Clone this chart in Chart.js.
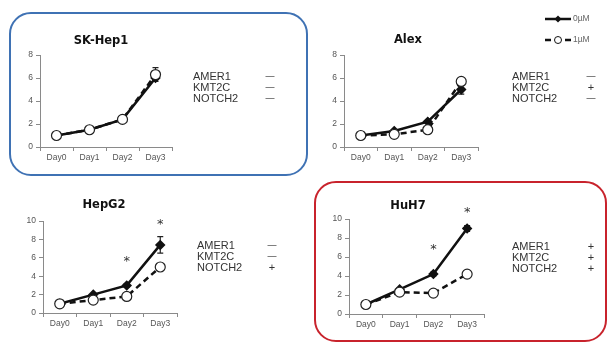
<!DOCTYPE html>
<html>
<head>
<meta charset="utf-8">
<script src="https://cdn.jsdelivr.net/npm/chart.js@4"></script>
<style>
  body { margin: 0; background: #fff; }
  #wrap { position: relative; width: 608px; height: 343px; overflow: hidden; }
  #wrap canvas { position: absolute; }
  .box { position: absolute; box-sizing: border-box; border-radius: 22px; }
</style>
</head>
<body>
<div id="wrap">
  <div class="box" style="left:9px;top:12px;width:299px;height:164px;border:2px solid #3f72b4"></div>
  <div class="box" style="left:314px;top:181px;width:293px;height:161px;border:2px solid #c8232c"></div>
  <canvas id="c1" width="304" height="170" style="left:0;top:0"></canvas>
  <canvas id="c2" width="304" height="170" style="left:304px;top:0"></canvas>
  <canvas id="c3" width="304" height="173" style="left:0;top:170px"></canvas>
  <canvas id="c4" width="304" height="173" style="left:304px;top:170px"></canvas>
</div>
<script>
const days = ['Day0', 'Day1', 'Day2', 'Day3']
const genes = ['AMER1', 'KMT2C', 'NOTCH2']

// fold change, 0µM / 1µM
const skHep1_0 = [1.0, 1.5, 2.4, 6.0]
const skHep1_1 = [1.0, 1.5, 2.4, 6.3]
const skHep1_err0 = [0, 0, 0, 0]
const skHep1_err1 = [0, 0, 0, 0.6]
const skHep1_mut = ['—', '—', '—']

const alex_0 = [1.0, 1.4, 2.2, 5.0]
const alex_1 = [1.0, 1.1, 1.5, 5.7]
const alex_err0 = [0, 0, 0, 0.4]
const alex_err1 = [0, 0, 0, 0]
const alex_mut = ['—', '+', '—']

const hepG2_0 = [1.0, 2.0, 3.0, 7.4]
const hepG2_1 = [1.0, 1.4, 1.8, 5.0]
const hepG2_err0 = [0, 0.1, 0.2, 0.9]
const hepG2_err1 = [0, 0, 0, 0]
const hepG2_mut = ['—', '—', '+']
const hepG2_stars = [null, null, 5.6, 9.6]

const huh7_0 = [1.0, 2.6, 4.2, 9.0]
const huh7_1 = [1.0, 2.3, 2.2, 4.2]
const huh7_err0 = [0, 0.1, 0.2, 0.3]
const huh7_err1 = [0, 0, 0, 0]
const huh7_mut = ['+', '+', '+']
const huh7_stars = [null, null, 6.8, 10.7]

const tickFont = { family: 'Liberation Sans', size: 8.5 }
const grey = '#8a8a8a'

const panelPlugin = {
    id: 'panel',
    beforeDatasetsDraw(chart, args, opts) {
        const ctx = chart.ctx
        const x = chart.scales.x, y = chart.scales.y
        ctx.save()
        ctx.strokeStyle = '#222'
        ctx.lineWidth = 1.2
        chart.data.datasets.forEach(ds => {
            (ds.err || []).forEach((e, i) => {
                if (!e) return
                const px = x.getPixelForValue(i)
                const top = y.getPixelForValue(ds.data[i] + e)
                const bot = y.getPixelForValue(ds.data[i] - e)
                ctx.beginPath()
                ctx.moveTo(px, top); ctx.lineTo(px, bot)
                ctx.moveTo(px - 3, top); ctx.lineTo(px + 3, top)
                ctx.moveTo(px - 3, bot); ctx.lineTo(px + 3, bot)
                ctx.stroke()
            })
        })
        ctx.restore()
    },
    afterDraw(chart, args, opts) {
        const ctx = chart.ctx
        ctx.save()
        ctx.fillStyle = '#111'
        ctx.font = 'bold 11.5px "DejaVu Sans"'
        ctx.textAlign = 'center'
        ctx.textBaseline = 'middle'
        ctx.fillText(opts.title, opts.titleX, opts.titleY)

        ctx.fillStyle = '#333'
        genes.forEach((g, i) => {
            const gy = opts.geneY + i * opts.geneDy
            ctx.font = '11px "Liberation Sans"'
            ctx.textAlign = 'left'
            ctx.fillText(g, opts.geneX, gy)
            ctx.textAlign = 'center'
            // dash is drawn smaller so it matches the short minus of the original
            ctx.font = opts.mut[i] === '—' ? '9px "Liberation Sans"' : '11px "Liberation Sans"'
            ctx.fillText(opts.mut[i], opts.signX, gy)
        })

        if (opts.stars) {
            const x = chart.scales.x, y = chart.scales.y
            ctx.font = '13px "DejaVu Sans"'
            ctx.fillStyle = '#333'
            opts.stars.forEach((v, i) => {
                if (v == null) return
                ctx.fillText('*', x.getPixelForValue(i), y.getPixelForValue(v))
            })
        }

        if (opts.legend) {
            const items = chart.data.datasets.slice().sort((a, b) => a.order - b.order).reverse()
            items.forEach((ds, i) => {
                const ly = opts.legend.y + i * opts.legend.dy
                const x0 = opts.legend.x, x1 = x0 + 26
                ctx.strokeStyle = '#111'
                ctx.lineWidth = 2.5
                ctx.setLineDash(ds.borderDash || [])
                ctx.beginPath(); ctx.moveTo(x0, ly); ctx.lineTo(x1, ly); ctx.stroke()
                ctx.setLineDash([])
                const cx = (x0 + x1) / 2
                ctx.lineWidth = 1
                if (ds.pointStyle === 'circle') {
                    ctx.fillStyle = '#fff'
                    ctx.beginPath(); ctx.arc(cx, ly, 3.5, 0, Math.PI * 2); ctx.fill(); ctx.stroke()
                } else {
                    ctx.fillStyle = '#111'
                    ctx.beginPath()
                    ctx.moveTo(cx, ly - 3.5); ctx.lineTo(cx + 3.5, ly); ctx.lineTo(cx, ly + 3.5); ctx.lineTo(cx - 3.5, ly)
                    ctx.closePath(); ctx.fill()
                }
                ctx.fillStyle = '#666'
                ctx.font = '8.5px "Liberation Sans"'
                ctx.textAlign = 'left'
                ctx.fillText(ds.label, x1 + 2, ly)
            })
        }
        ctx.restore()
    }
}

function makeChart(id, d0, d1, e0, e1, yMax, pad, panel) {
    return new Chart(document.getElementById(id), {
        type: 'line',
        data: {
            labels: days,
            datasets: [{
                label: '0µM',
                data: d0,
                err: e0,
                order: 2,
                borderColor: '#111',
                borderWidth: 2.5,
                pointStyle: 'rectRot',
                pointRadius: 3.5,
                pointBackgroundColor: '#111',
                pointBorderColor: '#111',
                tension: 0
            }, {
                label: '1µM',
                data: d1,
                err: e1,
                order: 1,
                borderColor: '#111',
                borderWidth: 2.5,
                borderDash: [6, 4],
                pointStyle: 'circle',
                pointRadius: 5,
                pointBackgroundColor: '#fff',
                pointBorderColor: '#222',
                pointBorderWidth: 1.2,
                tension: 0
            }]
        },
        options: {
            responsive: false,
            animation: false,
            devicePixelRatio: 1,
            layout: { padding: pad },
            plugins: {
                legend: { display: false },
                tooltip: { enabled: false },
                panel: panel
            },
            scales: {
                x: {
                    offset: true,
                    afterFit: s => { s.height = 20 },
                    grid: { offset: true, drawOnChartArea: false, tickLength: 4, color: grey },
                    border: { color: grey },
                    ticks: { font: tickFont, color: '#555', padding: 2, maxRotation: 0 }
                },
                y: {
                    min: 0,
                    max: yMax,
                    afterFit: s => { s.width = 30 },
                    grid: { drawOnChartArea: false, tickLength: 4, color: grey },
                    border: { color: grey },
                    ticks: { stepSize: 2, font: tickFont, color: '#555', padding: 3 }
                }
            }
        },
        plugins: [panelPlugin]
    })
}

makeChart('c1', skHep1_0, skHep1_1, skHep1_err0, skHep1_err1, 8,
    { left: 10, right: 132, top: 55, bottom: 3 },
    { title: 'SK-Hep1', titleX: 101, titleY: 41, mut: skHep1_mut, geneX: 193, signX: 270, geneY: 77, geneDy: 11 })

makeChart('c2', alex_0, alex_1, alex_err0, alex_err1, 8,
    { left: 10, right: 130, top: 55, bottom: 3 },
    { title: 'Alex', titleX: 104, titleY: 40, mut: alex_mut, geneX: 208, signX: 287, geneY: 77, geneDy: 11,
      legend: { x: 241, y: 19, dy: 21 } })

makeChart('c3', hepG2_0, hepG2_1, hepG2_err0, hepG2_err1, 10,
    { left: 13, right: 127, top: 51, bottom: 10 },
    { title: 'HepG2', titleX: 104, titleY: 35, mut: hepG2_mut, geneX: 197, signX: 272, geneY: 76, geneDy: 11, stars: hepG2_stars })

makeChart('c4', huh7_0, huh7_1, huh7_err0, huh7_err1, 10,
    { left: 15, right: 124, top: 49, bottom: 9 },
    { title: 'HuH7', titleX: 104, titleY: 36, mut: huh7_mut, geneX: 208, signX: 287, geneY: 77, geneDy: 11, stars: huh7_stars })
</script>
</body>
</html>
